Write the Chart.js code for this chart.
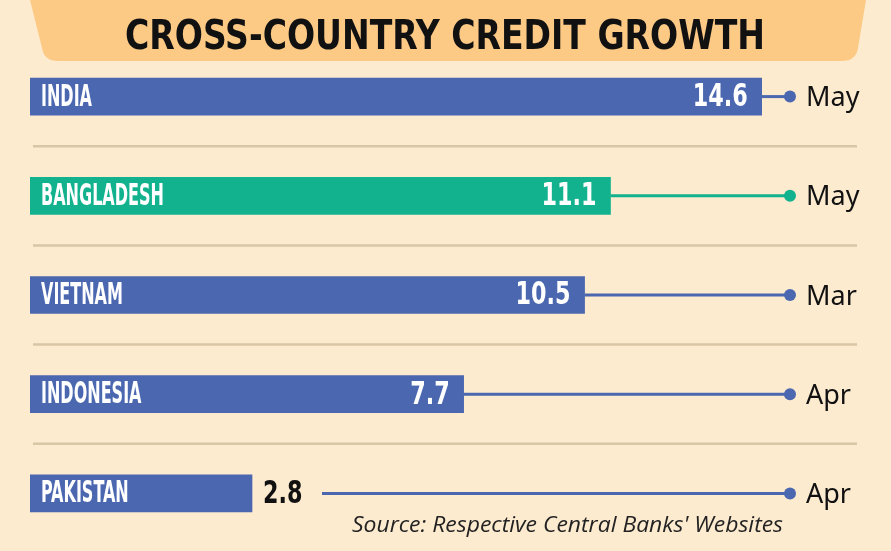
<!DOCTYPE html>
<html><head><meta charset="utf-8">
<script src="https://cdn.jsdelivr.net/npm/chart.js@4/dist/chart.umd.min.js"></script>
<style>
html,body{margin:0;padding:0;background:#fdebd0;}
#wrap{position:relative;width:891px;height:551px;}
</style></head>
<body><div id="wrap"><canvas id="c" width="891" height="551"></canvas></div>
<script>
const countries = ['INDIA','BANGLADESH','VIETNAM','INDONESIA','PAKISTAN'];
const growth = [14.6, 11.1, 10.5, 7.7, 2.8];
const months = ['May','May','Mar','Apr','Apr'];
const barColors = ['#4a67b0','#12b28e','#4a67b0','#4a67b0','#4a67b0'];
const titleText = 'CROSS-COUNTRY CREDIT GROWTH';
const sourceText = "Source: Respective Central Banks' Websites";

const AXIS_MIN = -2.34, AXIS_MAX = 16.9;
const COND = "'DejaVu Sans Condensed','DejaVu Sans',sans-serif";

// draw text squeezed horizontally by factor sx, anchored at x with given align
function drawScaled(ctx, text, x, y, sx, align){
  ctx.save();
  ctx.translate(x, y);
  ctx.scale(sx, 1);
  ctx.textAlign = align;
  ctx.fillText(text, 0, 0);
  ctx.restore();
}

const deco = {
  id:'deco',
  beforeDraw(chart){
    const ctx = chart.ctx;
    ctx.save();
    ctx.fillStyle = '#fdebd0';
    ctx.fillRect(0,0,chart.width,chart.height);
    // banner
    ctx.fillStyle = '#fdca86';
    ctx.beginPath();
    ctx.moveTo(30,0);
    ctx.lineTo(866,0);
    ctx.lineTo(858,48);
    ctx.quadraticCurveTo(856,61,842,61);
    ctx.lineTo(58,61);
    ctx.quadraticCurveTo(44,61,42,48);
    ctx.closePath();
    ctx.fill();
    ctx.fillStyle = '#111';
    ctx.font = "bold 41px " + COND;
    ctx.textBaseline = 'middle';
    const tw = ctx.measureText(titleText).width;
    drawScaled(ctx, titleText, 445, 38, 640/tw, 'center');
    // separators
    const ys = chart.scales.y;
    ctx.strokeStyle = '#d9c6a6';
    ctx.lineWidth = 2.5;
    for (let i=0;i<countries.length-1;i++){
      const y = (ys.getPixelForValue(i)+ys.getPixelForValue(i+1))/2;
      ctx.beginPath(); ctx.moveTo(33,y); ctx.lineTo(857,y); ctx.stroke();
    }
    ctx.restore();
  },
  afterDatasetsDraw(chart){
    const ctx = chart.ctx;
    const meta = chart.getDatasetMeta(0);
    const dotX = 790;
    ctx.save();
    ctx.textBaseline = 'middle';
    ctx.font = "bold 31px " + COND;
    const nameScale = 51 / ctx.measureText('INDIA').width;
    ctx.font = "bold 32px " + COND;
    const valScale = 55 / ctx.measureText('14.6').width;
    meta.data.forEach((bar,i)=>{
      const y = bar.y;
      const right = bar.x;
      const left = bar.base;
      // country name
      ctx.fillStyle = '#fff';
      ctx.font = "bold 31px " + COND;
      drawScaled(ctx, countries[i], left+11, y+1, nameScale, 'left');
      // value
      ctx.font = "bold 32px " + COND;
      let lineStart;
      if (right - left > 300) {
        ctx.fillStyle = '#fff';
        drawScaled(ctx, growth[i].toFixed(1), right-14, y+1, valScale, 'right');
        lineStart = right;
      } else {
        ctx.fillStyle = '#111';
        drawScaled(ctx, growth[i].toFixed(1), right+11, y+1, valScale, 'left');
        lineStart = right + 70;
      }
      ctx.strokeStyle = barColors[i];
      ctx.lineWidth = 3;
      ctx.beginPath(); ctx.moveTo(lineStart,y); ctx.lineTo(dotX,y); ctx.stroke();
      ctx.fillStyle = barColors[i];
      ctx.beginPath(); ctx.arc(dotX,y,6,0,Math.PI*2); ctx.fill();
      // month
      ctx.fillStyle = '#111';
      ctx.font = "27px 'Noto Sans','DejaVu Sans',sans-serif";
      ctx.textAlign = 'left';
      ctx.fillText(months[i], 806, y+2);
    });
    ctx.fillStyle = '#222';
    ctx.font = "italic 21px 'Open Sans','Noto Sans',sans-serif";
    const sw = ctx.measureText(sourceText).width;
    drawScaled(ctx, sourceText, 783, 526, 431/sw, 'right');
    ctx.restore();
  }
};

new Chart(document.getElementById('c'), {
  type:'bar',
  data:{
    labels: countries,
    datasets:[{
      data: growth,
      base: AXIS_MIN,
      backgroundColor: barColors,
      borderWidth: 0,
      barThickness: 37
    }]
  },
  options:{
    indexAxis:'y',
    responsive:false,
    animation:false,
    devicePixelRatio:1,
    layout:{padding:{left:30,right:30,top:47,bottom:8}},
    plugins:{legend:{display:false},tooltip:{enabled:false}},
    scales:{
      x:{display:false,min:AXIS_MIN,max:AXIS_MAX},
      y:{display:false}
    }
  },
  plugins:[deco]
});
</script>
</body></html>
